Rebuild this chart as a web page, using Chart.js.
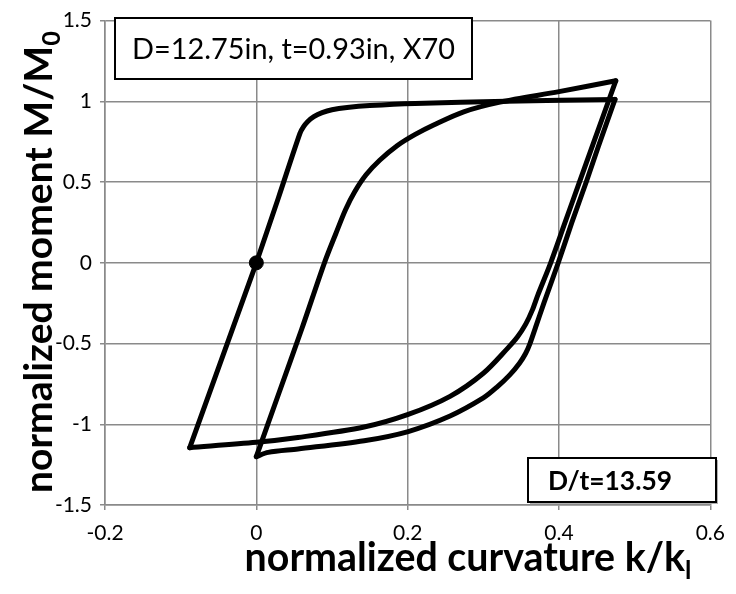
<!DOCTYPE html>
<html>
<head>
<meta charset="utf-8">
<script src="https://cdn.jsdelivr.net/npm/chart.js@4.4.1/dist/chart.umd.min.js"></script>
<style>
  html, body { margin: 0; padding: 0; background: #fff; }
  #contenedor { width: 736px; height: 594px; }
</style>
</head>
<body>
<div id="contenedor"><canvas id="grafico-momento"></canvas></div>
<script>
// Ejes
const ticksX = [-0.2, 0, 0.2, 0.4, 0.6];
const ticksY = [-1.5, -1, -0.5, 0, 0.5, 1, 1.5];

// Tramo 1: carga inicial desde el origen
const cargaK = [0, 0.029, 0.0575, 0.062, 0.068, 0.076, 0.087, 0.1, 0.12, 0.15, 0.21, 0.33, 0.474];
const cargaM = [0, 0.4, 0.8, 0.84, 0.875, 0.905, 0.93, 0.948, 0.962, 0.974, 0.987, 1.0, 1.012];

// Tramo 2: primera descarga
const descarga1K = [0.474, 0.452, 0.436, 0.417, 0.399, 0.38, 0.369, 0.3616, 0.356, 0.348, 0.335, 0.318, 0.3, 0.256, 0.2007, 0.1425, 0.055, 0.0157, 0];
const descarga1M = [1.012, 0.72, 0.5, 0.25, 0, -0.25, -0.4, -0.5, -0.56, -0.62, -0.694, -0.77, -0.837, -0.949, -1.045, -1.102, -1.153, -1.174, -1.2];

// Tramo 3: recarga
const recargaK = [0, 0.03, 0.06, 0.09, 0.105, 0.118, 0.13, 0.145, 0.163, 0.186, 0.21, 0.235, 0.274, 0.322, 0.4, 0.475];
const recargaM = [-1.2, -0.805, -0.41, 0, 0.18, 0.33, 0.44, 0.545, 0.635, 0.725, 0.795, 0.855, 0.935, 0.995, 1.06, 1.127];

// Tramo 4: segunda descarga
const descarga2K = [0.475, 0.445, 0.427, 0.408, 0.389, 0.372, 0.365, 0.356, 0.345, 0.332, 0.3, 0.256, 0.2007, 0.1425, 0.055, 0, -0.088];
const descarga2M = [1.127, 0.735, 0.5, 0.25, 0, -0.2, -0.29, -0.38, -0.46, -0.53, -0.684, -0.827, -0.939, -1.017, -1.082, -1.112, -1.145];

// Tramo 5: vuelta al origen
const vueltaK = [-0.088, 0];
const vueltaM = [-1.145, 0];

const tituloX = ['normalized curvature k/k', 'l'];
const tituloY = ['normalized moment M/M', '0'];
const notaArriba = 'D=12.75in, t=0.93in, X70';
const notaAbajo = 'D/t=13.59';

const GRIS = '#8a8a8a';

function puntos(ks, ms) {
  return ks.map((k, i) => ({ x: k, y: ms[i] }));
}

function tramo(ks, ms, tension) {
  return {
    data: puntos(ks, ms),
    showLine: true,
    borderColor: '#000',
    borderWidth: 5,
    pointRadius: 0,
    tension: tension,
    borderCapStyle: 'round',
    borderJoinStyle: 'round'
  };
}

// Ajusta el tamaño de fuente para que el texto ocupe un ancho dado
function tamanoPara(ctx, texto, sub, peso, ancho) {
  ctx.font = peso + ' 40px Lato';
  let w = ctx.measureText(texto).width;
  ctx.font = peso + ' 26px Lato';
  w += ctx.measureText(sub).width;
  return 40 * ancho / w;
}

function textoConSub(ctx, texto, sub, peso, tam, x, y) {
  ctx.font = peso + ' ' + tam + 'px Lato';
  const w1 = ctx.measureText(texto).width;
  ctx.font = peso + ' ' + (tam * 0.65) + 'px Lato';
  const w2 = ctx.measureText(sub).width;
  const inicio = x - (w1 + w2) / 2;
  ctx.textAlign = 'left';
  ctx.textBaseline = 'alphabetic';
  ctx.font = peso + ' ' + tam + 'px Lato';
  ctx.fillText(texto, inicio, y);
  ctx.font = peso + ' ' + (tam * 0.65) + 'px Lato';
  ctx.fillText(sub, inicio + w1, y + tam * 0.2);
}

function caja(ctx, x, y, w, h, sombra) {
  if (sombra) {
    ctx.fillStyle = '#b0b0b0';
    ctx.fillRect(x + 2, y + 2, w, h);
  }
  ctx.fillStyle = '#fff';
  ctx.fillRect(x, y, w, h);
  ctx.strokeStyle = '#000';
  ctx.lineWidth = 2;
  ctx.strokeRect(x, y, w, h);
}

const textos = {
  id: 'textos',
  afterDraw(chart) {
    const ctx = chart.ctx;
    ctx.save();
    ctx.fillStyle = '#000';

    // titulo eje X
    let tam = tamanoPara(ctx, tituloX[0], tituloX[1], 'bold', 447);
    ctx.fillStyle = '#000';
    textoConSub(ctx, tituloX[0], tituloX[1], 'bold', tam, 468, 571);

    // titulo eje Y (girado)
    ctx.save();
    ctx.translate(52, 262);
    ctx.rotate(-Math.PI / 2);
    tam = tamanoPara(ctx, tituloY[0], tituloY[1], 'bold', 462);
    ctx.fillStyle = '#000';
    textoConSub(ctx, tituloY[0], tituloY[1], 'bold', tam, 0, 0);
    ctx.restore();

    // nota superior
    caja(ctx, 115, 18, 357, 61, false);
    ctx.font = '40px Lato';
    let w = ctx.measureText(notaArriba).width;
    ctx.font = (40 * 323 / w) + 'px Lato';
    ctx.fillStyle = '#000';
    ctx.textAlign = 'left';
    ctx.textBaseline = 'middle';
    ctx.fillText(notaArriba, 132, 50);

    // nota inferior
    caja(ctx, 528, 458, 188, 44, true);
    ctx.font = 'bold 40px Lato';
    w = ctx.measureText(notaAbajo).width;
    ctx.font = 'bold ' + (40 * 124 / w) + 'px Lato';
    ctx.fillStyle = '#000';
    ctx.textAlign = 'center';
    ctx.textBaseline = 'middle';
    ctx.fillText(notaAbajo, 610, 481);

    ctx.restore();
  }
};

const ctx = document.getElementById('grafico-momento').getContext('2d');
window.momentoChart = new Chart(ctx, {
  type: 'scatter',
  data: {
    datasets: [
      tramo(cargaK, cargaM, 0.3),
      tramo(descarga1K, descarga1M, 0.3),
      tramo(recargaK, recargaM, 0.3),
      tramo(descarga2K, descarga2M, 0.3),
      tramo(vueltaK, vueltaM, 0),
      {
        data: [{ x: 0, y: 0 }],
        pointRadius: 7,
        pointBackgroundColor: '#000',
        pointBorderColor: '#000',
        showLine: false
      }
    ]
  },
  options: {
    responsive: true,
    maintainAspectRatio: false,
    animation: false,
    layout: { padding: { left: 0, right: 20, top: 15, bottom: 0 } },
    plugins: {
      legend: { display: false },
      tooltip: { enabled: false }
    },
    scales: {
      x: {
        type: 'linear',
        min: -0.2,
        max: 0.6,
        afterBuildTicks: (eje) => { eje.ticks = ticksX.map(v => ({ value: v })); },
        afterFit: (eje) => { eje.height = 89; },
        ticks: {
          color: '#000',
          font: { family: 'Lato', size: 21 },
          padding: 11,
          callback: (v) => String(Math.round(v * 10) / 10)
        },
        grid: { color: GRIS, lineWidth: 1.5, tickLength: 5 },
        border: { color: GRIS, width: 1.5 }
      },
      y: {
        type: 'linear',
        min: -1.5,
        max: 1.5,
        afterBuildTicks: (eje) => { eje.ticks = ticksY.map(v => ({ value: v })); },
        afterFit: (eje) => { eje.width = 105; },
        ticks: {
          color: '#000',
          font: { family: 'Lato', size: 21 },
          padding: 8,
          callback: (v) => String(Math.round(v * 10) / 10)
        },
        grid: { color: GRIS, lineWidth: 1.5, tickLength: 5 },
        border: { color: GRIS, width: 1.5 }
      }
    }
  },
  plugins: [textos]
});
</script>
</body>
</html>
